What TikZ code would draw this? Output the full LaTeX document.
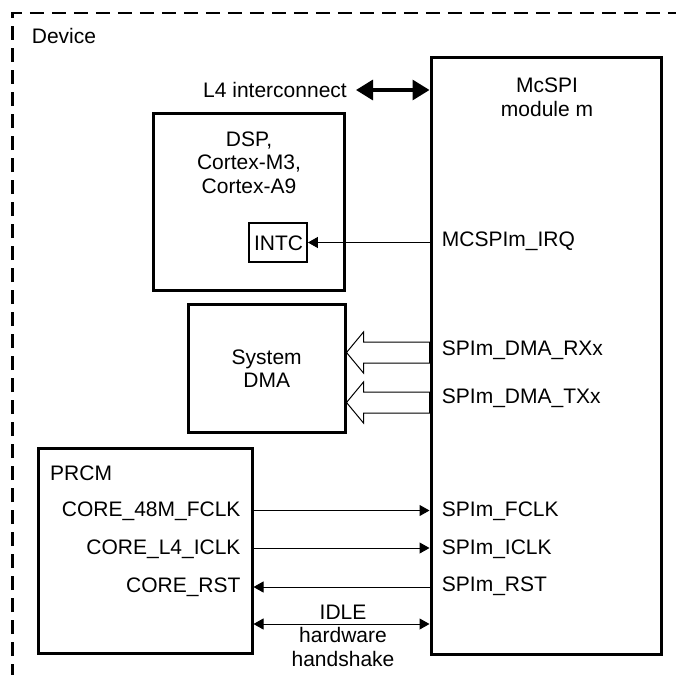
\documentclass[tikz,border=0pt]{standalone}
\usepackage{fontspec}
\setmainfont{Liberation Sans}
\usetikzlibrary{arrows.meta,calc}
\begin{document}
\begin{tikzpicture}[x=1pt,y=-1pt,
  box/.style={draw,line width=3pt,inner sep=0pt},
  lbl/.style={font=\fontsize{21}{24}\selectfont,inner sep=0pt},
  sig/.style={line width=1pt,-{Triangle[length=10pt,width=11pt]}},
  dsig/.style={line width=1pt,{Triangle[length=10pt,width=11pt]}-{Triangle[length=10pt,width=11pt]}},
  hollow/.style={draw,line width=1pt,fill=white,line join=miter},
  border/.style={line width=2.2pt,dash pattern=on 14pt off 8pt}
]
\useasboundingbox (0,0) rectangle (676,674);
\draw[border] (12.5,700) -- (12.5,13.3) -- (700,13.3);
\node[lbl,anchor=base west] (dev) at (31.7,44) {Device};

% boxes
\node[box,minimum width=230.5,minimum height=596] (mcspi) at (546.25,356) {};
\node[box,minimum width=191,minimum height=177] (dsp) at (248.5,201.5) {};
\node[box,line width=1.8pt,minimum width=58,minimum height=39] (intc) at (278,242.5) {};
\node[lbl,anchor=base] at (278.5,250) {INTC};
\node[box,minimum width=157,minimum height=128] (dma) at (266.5,368) {};
\node[box,minimum width=214,minimum height=205] (prcm) at (145,550.5) {};

% box titles
\node[lbl,anchor=base] (mt1) at (547,92.3) {McSPI};
\node[lbl,anchor=base] (mt2) at (547,116) {module m};
\node[lbl,anchor=base] (dt1) at (249,146) {DSP,};
\node[lbl,anchor=base] (dt2) at (249,169.5) {Cortex-M3,};
\node[lbl,anchor=base] (dt3) at (249,193) {Cortex-A9};
\node[lbl,anchor=base] (sd1) at (266.7,364) {System};
\node[lbl,anchor=base] (sd2) at (266.7,387) {DMA};
\node[lbl,anchor=base west] (prcmt) at (50,480) {PRCM};

% McSPI signal labels
\node[lbl,anchor=base west] (irq) at (441.7,246.7) {MCSPIm\_IRQ};
\node[lbl,anchor=base west] (rx) at (441.7,355) {SPIm\_DMA\_RXx};
\node[lbl,anchor=base west] (tx) at (441.7,403.3) {SPIm\_DMA\_TXx};
\node[lbl,anchor=base west] (fclk) at (441.7,516) {SPIm\_FCLK};
\node[lbl,anchor=base west] (iclk) at (441.7,554) {SPIm\_ICLK};
\node[lbl,anchor=base west] (rst) at (441.7,591.7) {SPIm\_RST};

% PRCM signal labels
\node[lbl,anchor=base east] (cfclk) at (240.7,516) {CORE\_48M\_FCLK};
\node[lbl,anchor=base east] (ciclk) at (240.7,554) {CORE\_L4\_ICLK};
\node[lbl,anchor=base east] (crst) at (240.7,592.5) {CORE\_RST};

% L4 interconnect
\node[lbl,anchor=base east] (l4) at (347,97) {L4 interconnect};
\coordinate (l4y) at (356,90);
\draw[line width=3.3pt,{Triangle[length=17pt,width=20pt]}-{Triangle[length=17pt,width=20pt]}]
  (l4y) -- (l4y -| mcspi.west);

% IRQ
\draw[sig] (intc.east -| mcspi.west) -- (intc.east);

% hollow DMA arrows
\coordinate (rxa) at (dma.east |- 0,352.5);
\coordinate (txa) at (dma.east |- 0,402.5);
\foreach \c in {rxa,txa}{
  \draw[hollow] (\c) -- ($(\c)+(17,-20.5)$) -- ($(\c)+(17,-10.5)$)
    -- ($(\c -| mcspi.west)+(0,-10.5)$) -- ($(\c -| mcspi.west)+(0,10.5)$)
    -- ($(\c)+(17,10.5)$) -- ($(\c)+(17,20.5)$) -- cycle;
}

% clocks and reset
\coordinate (yf) at (0,510.5);
\coordinate (yi) at (0,548);
\coordinate (yr) at (0,587);
\coordinate (yd) at (0,624);
\draw[sig] (prcm.east |- yf) -- (mcspi.west |- yf);
\draw[sig] (prcm.east |- yi) -- (mcspi.west |- yi);
\draw[sig] (mcspi.west |- yr) -- (prcm.east |- yr);
\draw[dsig] (prcm.east |- yd) -- (mcspi.west |- yd);
\node[lbl,anchor=base] (idle) at (343,619) {IDLE};
\node[lbl,anchor=base] (hw) at (343,642.5) {hardware};
\node[lbl,anchor=base] (hs) at (343,666) {handshake};
\end{tikzpicture}
\end{document}
